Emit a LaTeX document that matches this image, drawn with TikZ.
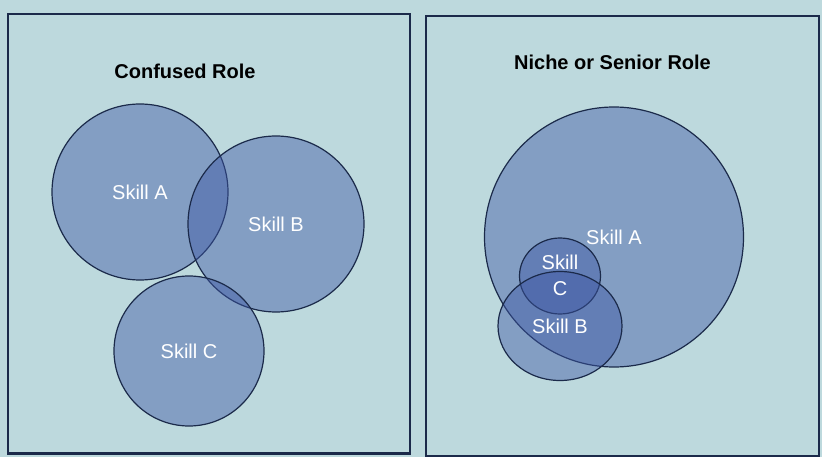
\documentclass[tikz,border=0pt]{standalone}
\usepackage{fontspec}
\setmainfont{Liberation Sans}
\definecolor{bgblue}{HTML}{BDD9DD}
\definecolor{navy}{HTML}{1B2A4A}
\definecolor{skillblue}{RGB}{62,88,165}
\tikzset{
	skill/.style={draw=navy, line width=1.2pt, fill=skillblue, fill opacity=0.45},
	box/.style={draw=navy, line width=2.4pt},
	lbl/.style={text=white, font=\fontsize{20}{26}\selectfont, align=center},
	ttl/.style={font=\bfseries\fontsize{20}{22}\selectfont}
}

\begin{document}
\begin{tikzpicture}[x=1pt,y=-1pt]
			%%%%% START %%%%%
			\def\xla{140}
			\def\yla{192}
			\def\xlb{276}
			\def\ylb{224}
			\def\xlc{189}
			\def\ylc{351}
			\def\radl{88}
			\def\radlc{75}
			\def\xra{614}
			\def\yra{237}
			\def\xrs{560}
			\def\yrc{276}
			\def\yrb{326}
			
			\fill[bgblue] (0,0) rectangle (822,457);
			\useasboundingbox (0,0) rectangle (822,457);
			
			\draw[box] (8,14) rectangle (410,453.5);
			\draw[box] (426,16) rectangle (819,456);
			
			\node[ttl] (ttl-confused) at (185,71) {Confused Role};
			\node[ttl] (ttl-niche) at (612.5,62) {Niche or Senior Role};
			
			\draw[skill] (\xla,\yla) circle (\radl);
			\draw[skill] (\xlb,\ylb) circle (\radl);
			\draw[skill] (\xlc,\ylc) circle (\radlc);
			
			\draw[skill] (\xra,\yra) ellipse (129.5 and 130);
			\draw[skill] (\xrs,\yrc) ellipse (40.5 and 38);
			\draw[skill] (\xrs,\yrb) ellipse (62 and 54.5);
			
			\node[lbl] (la) at (\xla,\yla) {Skill A};
			\node[lbl] (lb) at (\xlb,\ylb) {Skill B};
			\node[lbl] (lc) at (\xlc,\ylc) {Skill C};
			
			\node[lbl] (ra) at (\xra,\yra) {Skill A};
			\node[lbl] (rc) at (\xrs,\yrc-0.5) {Skill\\C};
			\node[lbl] (rb) at (\xrs,\yrb) {Skill B};
			%%%%% START %%%%%
		\end{tikzpicture}
\end{document}
